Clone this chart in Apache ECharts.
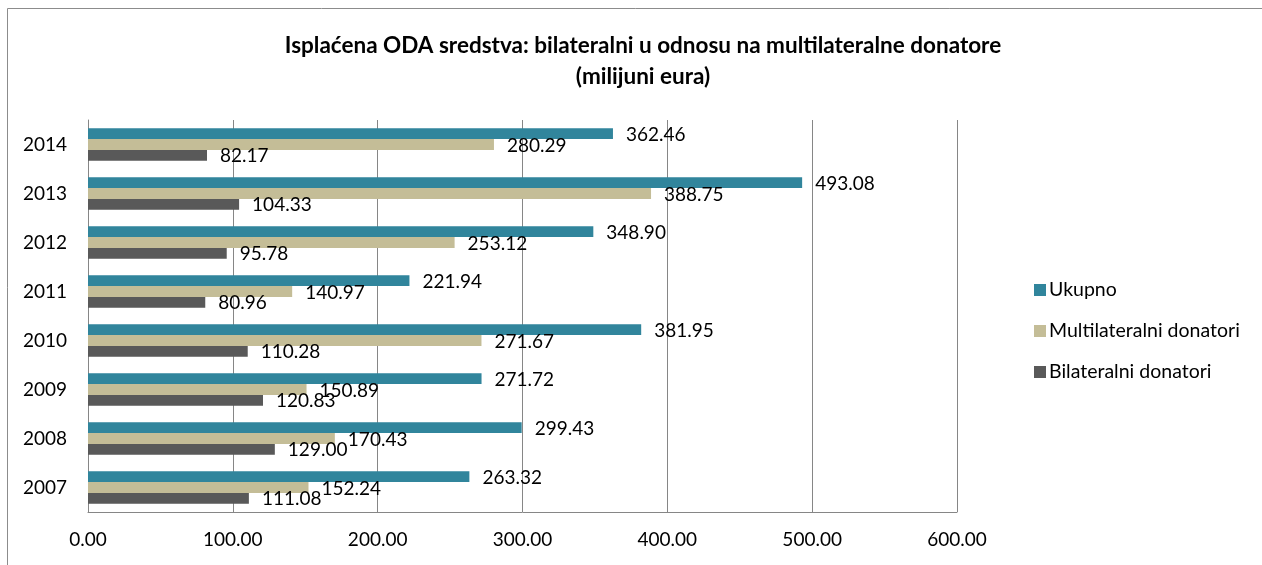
<!DOCTYPE html>
<html>
<head>
<meta charset="utf-8">
<script src="https://cdn.jsdelivr.net/npm/echarts@6/dist/echarts.min.js"></script>
<style>
html,body{margin:0;padding:0;background:#fff;}
#chart{width:1262px;height:565px;}
</style>
</head>
<body>
<div id="chart"></div>
<script>
const categories = ['2007','2008','2009','2010','2011','2012','2013','2014'];
const ukupno = [263.32, 299.43, 271.72, 381.95, 221.94, 348.90, 493.08, 362.46];
const multilateralni = [152.24, 170.43, 150.89, 271.67, 140.97, 253.12, 388.75, 280.29];
const bilateralni = [111.08, 129.00, 120.83, 110.28, 80.96, 95.78, 104.33, 82.17];
const xTicks = [0, 100, 200, 300, 400, 500, 600];

const FONT = 'Lato, "Open Sans", sans-serif';
const chart = echarts.init(document.getElementById('chart'));
const lbl = {
  show: true, position: 'right', distance: 13, color: '#000',
  fontFamily: FONT, fontSize: 19, offset: [0, 1],
  formatter: p => p.value.toFixed(2)
};
chart.setOption({
  animation: false,
  graphic: [{
    type: 'rect', silent: true,
    shape: { x: 7.5, y: 8.5, width: 1400, height: 700 },
    style: { fill: 'none', stroke: '#8c8c8c', lineWidth: 1 }
  }],
  title: {
    text: 'Isplaćena ODA sredstva: bilateralni u odnosu na multilateralne donatore\n(milijuni eura)',
    left: 638, top: 25, textAlign: 'center',
    textStyle: { fontFamily: FONT, fontSize: 22.5, fontWeight: 'bold', color: '#000', lineHeight: 31 }
  },
  legend: {
    orient: 'vertical', left: 1029, top: 275,
    itemWidth: 12, itemHeight: 12, itemGap: 21,
    icon: 'rect',
    data: ['Ukupno', 'Multilateralni donatori', 'Bilateralni donatori'],
    textStyle: { fontFamily: FONT, fontSize: 19.5, color: '#000', padding: [0,0,0,-2] }
  },
  grid: { left: 88, right: 305, top: 120, bottom: 53 },
  xAxis: {
    type: 'value', min: xTicks[0], max: xTicks[xTicks.length-1], interval: 100,
    axisLine: { show: true, lineStyle: { color: '#868686' } },
    axisTick: { show: false },
    splitLine: { show: true, lineStyle: { color: '#868686', width: 1 } },
    axisLabel: { color: '#000', fontFamily: FONT, fontSize: 19, margin: 18, formatter: v => v.toFixed(2) }
  },
  yAxis: {
    type: 'category', data: categories,
    axisLine: { show: true, lineStyle: { color: '#868686' } },
    axisTick: { show: false },
    axisLabel: { color: '#000', fontFamily: FONT, fontSize: 19, margin: 21 }
  },
  series: [
    { name: 'Ukupno', type: 'bar', data: ukupno, itemStyle: { color: '#31859C' }, barGap: '0%', barCategoryGap: '34%', label: lbl },
    { name: 'Multilateralni donatori', type: 'bar', data: multilateralni, itemStyle: { color: '#C4BD97' }, barGap: '0%', barCategoryGap: '34%', label: lbl },
    { name: 'Bilateralni donatori', type: 'bar', data: bilateralni, itemStyle: { color: '#595959' }, barGap: '0%', barCategoryGap: '34%', label: lbl }
  ]
});
</script>
</body>
</html>
